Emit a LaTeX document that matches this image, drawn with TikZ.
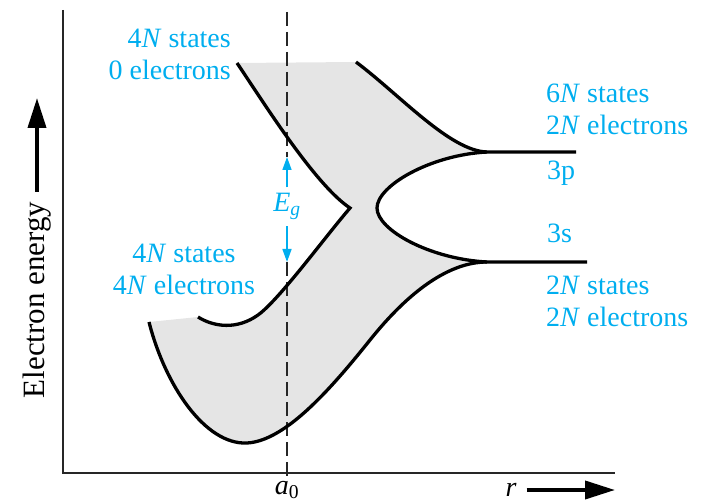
\documentclass[tikz,border=0pt]{standalone}
\usepackage{fontspec}
\setmainfont{Liberation Serif}
\usetikzlibrary{arrows.meta}
\definecolor{labelcyan}{RGB}{0,174,239}

\begin{document}
\begin{tikzpicture}[
    x=1pt, y=-1pt,
    band/.style={line width=3.3pt, draw=black, line join=miter},
    axis/.style={line width=1.8pt, draw=black!85},
    cutline/.style={line width=1.8pt, draw=black!85, dash pattern=on 14pt off 6pt},
    bandfill/.style={fill=black!10},
    cyanlabel/.style={font=\fontsize{28}{31.5}\selectfont, text=labelcyan, inner sep=0pt},
    gaparrow/.style={line width=1.6pt, draw=labelcyan, -{Triangle[length=13pt,width=9pt]}},
    bigarrow/.style={line width=3.8pt, -{Triangle[length=30pt,width=18pt]}},
    axislabel/.style={font=\fontsize{28}{31}\selectfont, inner sep=0pt}
]
    \useasboundingbox (0,0) rectangle (706,502);

    % Shaded bands (3s/3p split into the two bands)
    \fill[bandfill] (237,63) .. controls (262,100) and (315,185) .. (350,208)
        .. controls (325,237) and (279,300) .. (258,315)
        .. controls (237,330) and (214,327) .. (198,317)
        -- (149,322)
        .. controls (165,385) and (205,445) .. (247,443)
        .. controls (285,441) and (330,390) .. (370,340)
        .. controls (410,290) and (450,262) .. (487,262)
        .. controls (430,259) and (377,230) .. (377,208)
        .. controls (377,186) and (430,155) .. (487,152)
        .. controls (450,151) and (400,95) .. (356,62)
        -- cycle;

    % Axes
    \draw[axis] (63,10) -- (63,473) -- (615,473);

    % Band edges at a_0
    \coordinate (cbedge) at (287,157);
    \coordinate (vbedge) at (287,262);

    % Lattice spacing a_0 (dashed)
    \draw[cutline] (287,12) -- (cbedge);
    \draw[cutline] (vbedge) -- (287,479);

    % Conduction band bottom and valence band top, meeting in the cusp
    \draw[band] (237,63) .. controls (262,100) and (315,185) .. (350,208)
        .. controls (325,237) and (279,300) .. (258,315)
        .. controls (237,330) and (214,327) .. (198,317);

    % Valence band bottom, merging into the 3s level
    \draw[band] (149,322) .. controls (165,385) and (205,445) .. (247,443)
        .. controls (285,441) and (330,390) .. (370,340)
        .. controls (410,290) and (450,262) .. (487,262) -- (587,262);

    % Conduction band top, merging into the 3p level
    \draw[band] (356,62) .. controls (400,95) and (450,151) .. (487,152) -- (576,152);

    % Inner edges between 3p and 3s
    \draw[band] (487,152) .. controls (430,155) and (377,186) .. (377,208)
        .. controls (377,230) and (430,259) .. (487,262);

    % Band labels
    \node[cyanlabel, anchor=north east, align=right] (upperband) at (231,29) {4\textit{N} states\\0 electrons};
    \node[cyanlabel, anchor=north, align=center] (lowerband) at (184,244) {4\textit{N} states\\4\textit{N} electrons};
    \node[cyanlabel, anchor=north west, align=left] (plevel) at (546,84) {6\textit{N} states\\2\textit{N} electrons};
    \node[cyanlabel, anchor=base west] (pname) at (547,180) {3p};
    \node[cyanlabel, anchor=base west] (sname) at (547,243) {3s};
    \node[cyanlabel, anchor=north west, align=left] (slevel) at (546,276) {2\textit{N} states\\2\textit{N} electrons};

    % Energy gap
    \node[cyanlabel, anchor=base, inner ysep=6pt] (gap) at (287,212) {\textit{E}\textsubscript{\textit{g}}};
    \draw[gaparrow] (gap.north) -- (cbedge);
    \draw[gaparrow] (gap.south) -- (vbedge);

    % Axis labels
    \node[axislabel, anchor=base] (spacing) at (287,494) {\textit{a}\textsubscript{0}};
    \node[axislabel, inner xsep=10pt] (rlabel) at (511,490) {\textit{r}};
    \coordinate (rtip) at (615,490);
    \draw[bigarrow] (rlabel) -- (rtip);
    \node[axislabel, font=\fontsize{31}{34}\selectfont, rotate=90, inner xsep=10pt] (elabel) at (37,300) {Electron energy};
    \coordinate (etip) at (37,98);
    \draw[bigarrow] (elabel) -- (etip);

\end{tikzpicture}
\end{document}
